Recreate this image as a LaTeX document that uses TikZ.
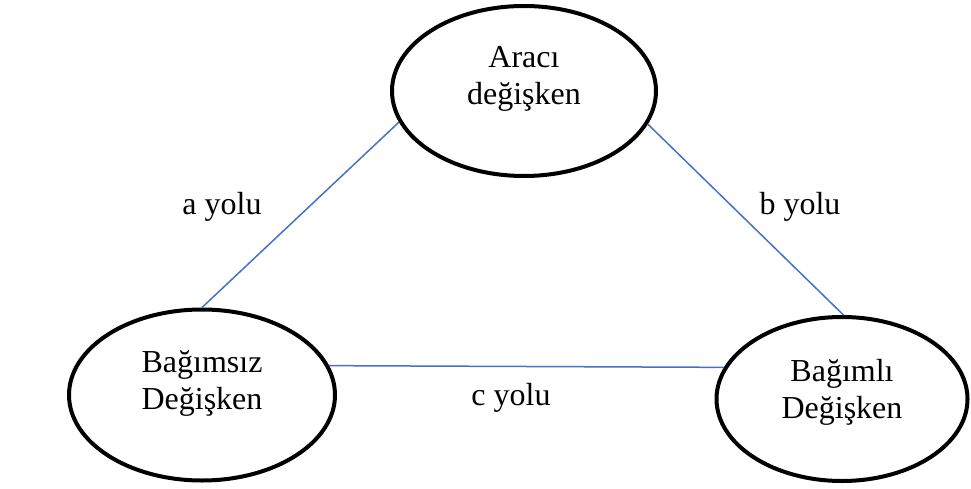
\documentclass[tikz,border=0pt]{standalone}
\usepackage{fontspec}
\setmainfont{Liberation Serif}
\usetikzlibrary{shapes.geometric}
\definecolor{yolmavi}{RGB}{68,114,196}
\begin{document}
\begin{tikzpicture}[x=1pt, y=-1pt, font=\fontsize{32}{37}\selectfont,
	degisken/.style={draw, ellipse, line width=4pt, inner sep=0pt},
	yol/.style={draw=yolmavi, line width=1.5pt}]
	\useasboundingbox (0,0) rectangle (971,489);
	\node[degisken, minimum width=264pt, minimum height=170pt, label={[align=center, yshift=12pt]center:Aracı\\değişken}] (araci) at (524,91) {};
	\node[degisken, minimum width=266pt, minimum height=171pt, label={[align=center, yshift=11pt]center:Bağımsız\\Değişken}] (bagimsiz) at (202,395) {};
	\node[degisken, minimum width=251pt, minimum height=164pt, label={[align=center, yshift=7pt]center:Bağımlı\\Değişken}] (bagimli) at (842,399) {};
	\draw[yol] (araci.194.5) -- (bagimsiz.90);
	\draw[yol] (araci.345.5) -- (bagimli.89);
	\draw[yol] (bagimsiz.13) -- (bagimli.165);
	\node[anchor=base] (ayolu) at (222,214) {a yolu};
	\node[anchor=base] (byolu) at (800,214) {b yolu};
	\node[anchor=base] (cyolu) at (511,405) {c yolu};
\end{tikzpicture}
\end{document}
